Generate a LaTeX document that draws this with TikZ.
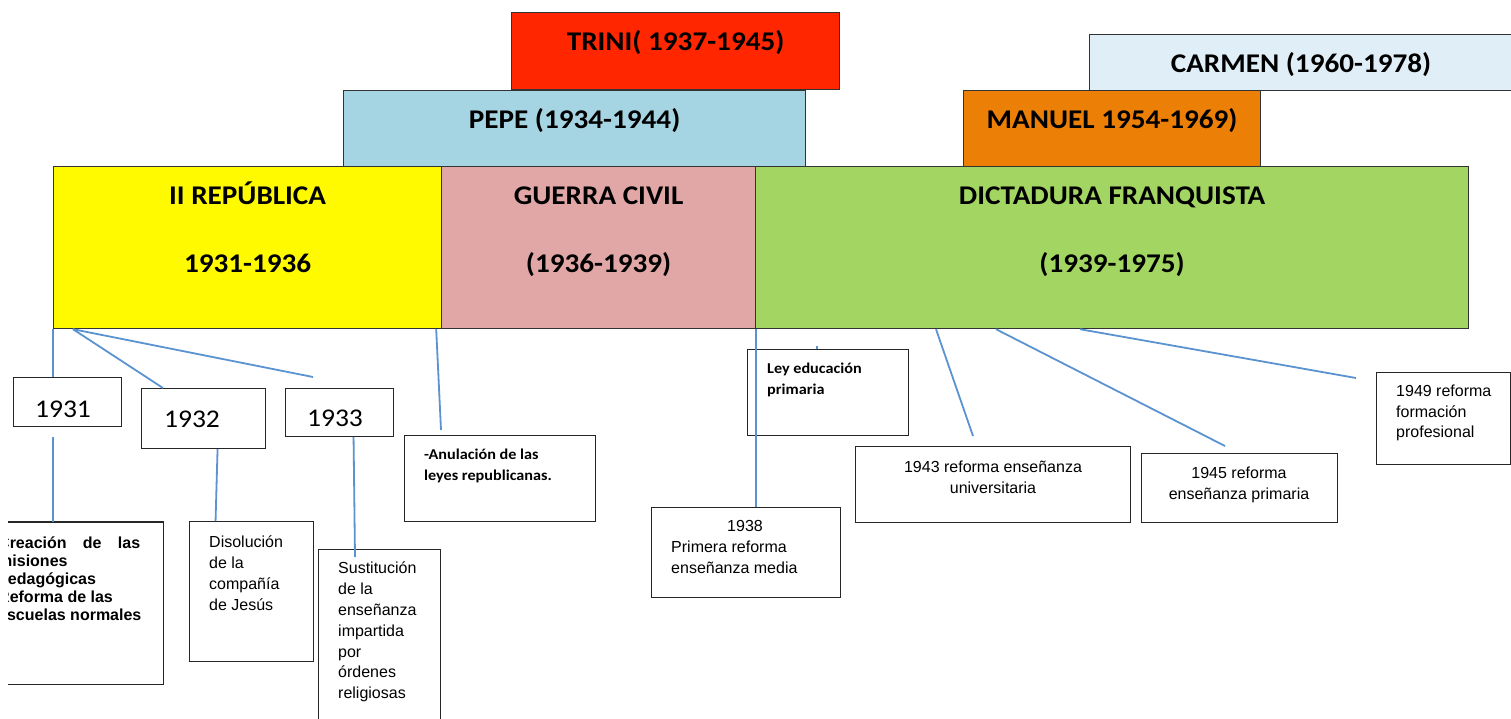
\documentclass[tikz,border=0pt]{standalone}
\usepackage{fontspec}
\setmainfont{Liberation Sans}
\newfontfamily\calibri{Carlito}[FakeStretch=1.08]
\usetikzlibrary{positioning}

\definecolor{trinired}{HTML}{FF2600}
\definecolor{pepeblue}{HTML}{A5D5E3}
\definecolor{carmenblue}{HTML}{E0EFF7}
\definecolor{manuelorange}{HTML}{EC7F05}
\definecolor{repyellow}{HTML}{FFFA00}
\definecolor{guerrapink}{HTML}{E1A7A6}
\definecolor{dictgreen}{HTML}{A2D562}
\definecolor{linkblue}{HTML}{5B93D0}

\begin{document}
\begin{tikzpicture}[x=1pt, y=-1pt,
period/.style={draw=black!80, line width=1.2pt, anchor=north west, inner sep=0pt},
eventbox/.style={draw=black!85, line width=1.1pt, anchor=north west, inner sep=0pt},
headtext/.style={font=\calibri\bfseries\fontsize{27}{32}\selectfont, anchor=base, inner sep=0pt},
yeartext/.style={font=\calibri\fontsize{25.5}{30}\selectfont, anchor=base, inner sep=0pt},
plaintext/.style={font=\fontsize{16}{20.8}\selectfont, inner sep=0pt, align=left, anchor=west},
boldtext/.style={font=\calibri\bfseries\fontsize{15}{21.5}\selectfont, inner sep=0pt, align=left, anchor=west},
link/.style={draw=linkblue, line width=1.8pt}
]
\useasboundingbox (0,0) rectangle (1511,718);

% periods and people
\node[period, fill=trinired, minimum width=328, minimum height=77] (trini) at (511,12) {};
\node[period, fill=pepeblue, minimum width=462, minimum height=76] (pepe) at (343,90) {};
\node[period, fill=carmenblue, minimum width=430, minimum height=56] (carmen) at (1089,34) {};
\node[period, fill=manuelorange, minimum width=297, minimum height=76] (manuel) at (963,90) {};
\node[period, fill=repyellow, minimum width=388, minimum height=162] (rep) at (53,166) {};
\node[period, fill=guerrapink, minimum width=314, minimum height=162] (guerra) at (441,166) {};
\node[period, fill=dictgreen, minimum width=713, minimum height=162] (dict) at (755,166) {};

\node[headtext] (trinitxt) at (trini.north |- 0,50) {TRINI( 1937-1945)};
\node[headtext] (pepetxt) at (pepe.north |- 0,128) {PEPE (1934-1944)};
\node[headtext] (carmentxt) at (1301,72) {CARMEN (1960-1978)};
\node[headtext] (manueltxt) at (manuel.north |- 0,128) {MANUEL 1954-1969)};
\node[headtext] (reptxt) at (rep.north |- 0,204) {II REPÚBLICA};
\node[headtext] (repyears) at (rep.north |- 0,272) {1931-1936};
\node[headtext] (guerratxt) at (guerra.north |- 0,204) {GUERRA CIVIL};
\node[headtext] (guerrayears) at (guerra.north |- 0,272) {(1936-1939)};
\node[headtext] (dicttxt) at (dict.north |- 0,204) {DICTADURA FRANQUISTA};
\node[headtext] (dictyears) at (dict.north |- 0,272) {(1939-1975)};

% years of the republic
\node[eventbox, minimum width=108, minimum height=49] (y1931) at (13,377) {};
\node[eventbox, minimum width=124, minimum height=60] (y1932) at (141,388) {};
\node[eventbox, minimum width=108, minimum height=48] (y1933) at (285,388) {};
\node[yeartext] at (63,417) {1931};
\node[yeartext] at (192,427) {1932};
\node[yeartext] at (335,426) {1933};

% events
\node[anchor=north west, inner sep=0pt, minimum width=155, minimum height=162] (creacion) at (8,522) {};
\draw[draw=black!85, line width=1.1pt] (creacion.north west) -- (creacion.north east)
  -- (creacion.south east) -- (creacion.south west);
\node[eventbox, minimum width=124, minimum height=140] (disol) at (189,521) {};
\node[eventbox, minimum width=122, minimum height=175] (sustit) at (318,549) {};
\node[eventbox, minimum width=191, minimum height=86] (anul) at (404,435) {};
\node[eventbox, minimum width=161, minimum height=86] (ley) at (747,349) {};
\node[eventbox, minimum width=189, minimum height=90] (m1938) at (651,507) {};
\node[eventbox, minimum width=275, minimum height=76] (r1943) at (855,446) {};
\node[eventbox, minimum width=196, minimum height=69] (r1945) at (1141,453) {};
\node[eventbox, minimum width=134, minimum height=92] (r1949) at (1376,372) {};

\begin{scope}
\clip (8,500) rectangle (200,700);
\node[plaintext, font=\bfseries\fontsize{16}{18}\selectfont] (creaciontxt) at (-2,579)
  {\hbox to 142pt{Creación\hfill de\hfill las}\\misiones\\pedagógicas\\Reforma de las\\escuelas normales};
\end{scope}
\node[plaintext] (disoltxt) at (209,573) {Disolución\\de la\\compañía\\de Jesús};
\node[plaintext] (sustittxt) at (338,632) {Sustitución\\de la\\enseñanza\\impartida\\por\\órdenes\\religiosas};
\node[boldtext] (anultxt) at (424,466) {-Anulación de las\\leyes republicanas.};
\node[boldtext] (leytxt) at (767,380) {Ley educación\\primaria};
\node[plaintext] (m1938txt) at (671,547) {\hspace*{56pt}1938\\Primera reforma\\enseñanza media};
\node[plaintext, align=center, anchor=center] (r1943txt) at (993,477) {1943 reforma enseñanza\\universitaria};
\node[plaintext, align=center, anchor=center] (r1945txt) at (1239,484.5) {1945 reforma\\enseñanza primaria};
\node[plaintext] (r1949txt) at (1396,413) {1949 reforma\\formación\\profesional};

% free ends
\coordinate (c1931) at (53,437);
\coordinate (e1933) at (313,377);
\coordinate (eanul) at (441,430);
\coordinate (f1933) at (355,557);
\coordinate (e1943) at (973,436);
\coordinate (e1945) at (1225,446);
\coordinate (e1949) at (1356,378);

\draw[link] (rep.south west) -- (rep.south west |- y1931.north);
\draw[link] ([xshift=20pt]rep.south west) -- ([xshift=22pt]y1932.north west);
\draw[link] ([xshift=20pt]rep.south west) -- (e1933);
\draw[link] ([xshift=-6pt]rep.south east) -- (eanul);
\draw[link] (c1931) -- (c1931 |- creacion.north);
\draw[link] ([xshift=14pt]y1932.south) -- ([xshift=-36pt]disol.north);
\draw[link] ([xshift=14pt]y1933.south) -- (f1933);
\draw[link] (guerra.south east) -- (guerra.south east |- m1938.north);
\draw[link] ([xshift=70pt]ley.north west) -- ++(0,-3);
\draw[link] ([xshift=181pt]dict.south west) -- (e1943);
\draw[link] ([xshift=241pt]dict.south west) -- (e1945);
\draw[link] ([xshift=325pt]dict.south west) -- (e1949);
\end{tikzpicture}
\end{document}
